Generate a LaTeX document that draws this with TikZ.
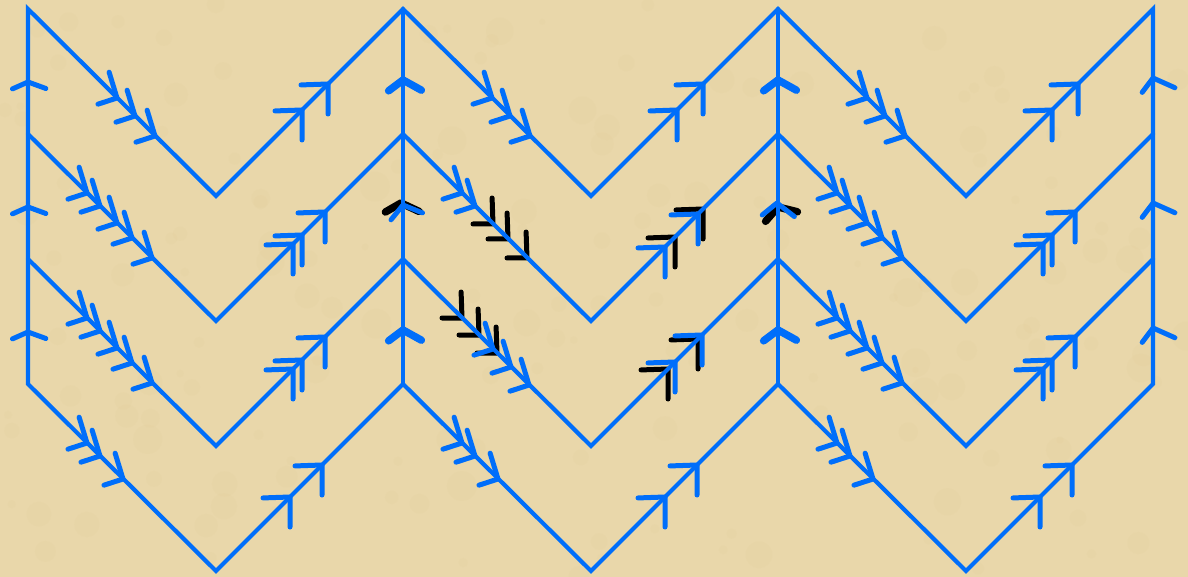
\documentclass[tikz,border=0pt]{standalone}
\usetikzlibrary{calc}
\definecolor{paper}{RGB}{233,215,170}
\definecolor{paperdark}{RGB}{218,196,135}
\definecolor{ink}{RGB}{0,110,250}
\tikzset{
  edge/.style={ink, line width=4.2pt, line cap=round, line join=miter},
  chev/.style={line width=5pt, line cap=round, line join=round},
  boldchev/.style={line width=7.5pt, line cap=round, line join=round}
}
% generic chevron: style, tip x, tip y, angle1, len1, angle2, len2
\newcommand\chv[7]{\draw[#1] (#2,#3) ++(#4:#5) -- (#2,#3) -- ++(#6:#7);}
\newcommand\dch[2]{\chv{chev,ink}{#1}{#2}{162}{20}{253}{27}}
\newcommand\dchk[2]{\chv{chev,black}{#1}{#2}{180}{20}{268}{26}}
\newcommand\ach[2]{\chv{chev,ink}{#1}{#2}{178}{27}{90}{30}}
\newcommand\achk[2]{\chv{chev,black}{#1}{#2}{178}{27}{90}{30}}
\begin{document}
\begin{tikzpicture}[x=1pt,y=-1pt]
\fill[paper] (0,0) rectangle (1188,577);
\useasboundingbox (0,0) rectangle (1188,577);
\pgfmathsetseed{7}
\foreach \i in {1,...,160}{
  \fill[paperdark, opacity=0.07] ({rnd*1188},{rnd*577}) circle ({3+rnd*12});
}
% vertices
\foreach \c in {0,...,3}{\foreach \r in {0,...,3}{
  \coordinate (T\c\r) at ({28+375*\c},{9+125*\r});}}
\foreach \c in {0,1,2}{\foreach \r in {0,...,3}{
  \coordinate (B\c\r) at ({216+375*\c},{196+125*\r});}}
% black marks (under the lines)
\foreach \o in {90,105,124}{\dchk{403+\o}{134+\o}}
\foreach \o in {59,76,94}{\dchk{403+\o}{259+\o}}
\foreach \o in {84,112}{\achk{591+\o}{321-\o}}
\foreach \o in {77,107}{\achk{591+\o}{446-\o}}
\chv{boldchev,black}{401}{203}{150}{18}{25}{20}
\chv{boldchev,black}{778}{207}{131}{19}{14}{20}
% edges
\draw[edge] (T00) -- (B00) -- (T10) -- (B10) -- (T20) -- (B20) -- (T30)
  -- (T33) -- (B23) -- (T23) -- (B13) -- (T13) -- (B03) -- (T03) -- cycle;
\draw[edge] (T01) -- (B01) -- (T11) -- (B11) -- (T21) -- (B21) -- (T31);
\draw[edge] (T02) -- (B02) -- (T12) -- (B12) -- (T22) -- (B22) -- (T32);
\draw[edge] (T10) -- (T13);
\draw[edge] (T20) -- (T23);
% blue chevrons on the zigzags
\foreach \c in {0,1,2}{
  \foreach \o in {89,107,127}{\dch{28+375*\c+\o}{9+\o}}
  \foreach \o in {59,72,95}{\dch{28+375*\c+\o}{384+\o}}
  \foreach \o in {86,112}{\ach{216+375*\c+\o}{196-\o}}
  \foreach \o in {74,106}{\ach{216+375*\c+\o}{571-\o}}
}
\foreach \c in {0,2}{\foreach \r in {1,2}{
  \foreach \o in {59,72,89,104,124}{\dch{28+375*\c+\o}{9+125*\r+\o}}
  \foreach \o in {77,86,109}{\ach{216+375*\c+\o}{196+125*\r-\o}}
}}
\foreach \o in {59,72}{\dch{403+\o}{134+\o}}
\foreach \o in {90,108,126}{\dch{403+\o}{259+\o}}
\foreach \o in {74,107}{\ach{591+\o}{321-\o}}
\foreach \o in {84,111}{\ach{591+\o}{446-\o}}
% chevrons on the verticals
\foreach \y in {82,207,332}{
  \chv{chev,ink}{28}{\y}{156}{17}{20}{19}
  \chv{chev,ink}{1153}{\y-4}{127}{18}{24}{24}
}
\foreach \y in {80,330}{
  \chv{boldchev,ink}{403}{\y}{143}{18}{29}{21}
  \chv{boldchev,ink}{778}{\y}{143}{18}{29}{21}
}
\chv{chev,ink}{403}{205}{129}{19}{22}{21}
\chv{chev,ink}{777}{203}{141}{19}{38}{22}
\end{tikzpicture}
\end{document}
